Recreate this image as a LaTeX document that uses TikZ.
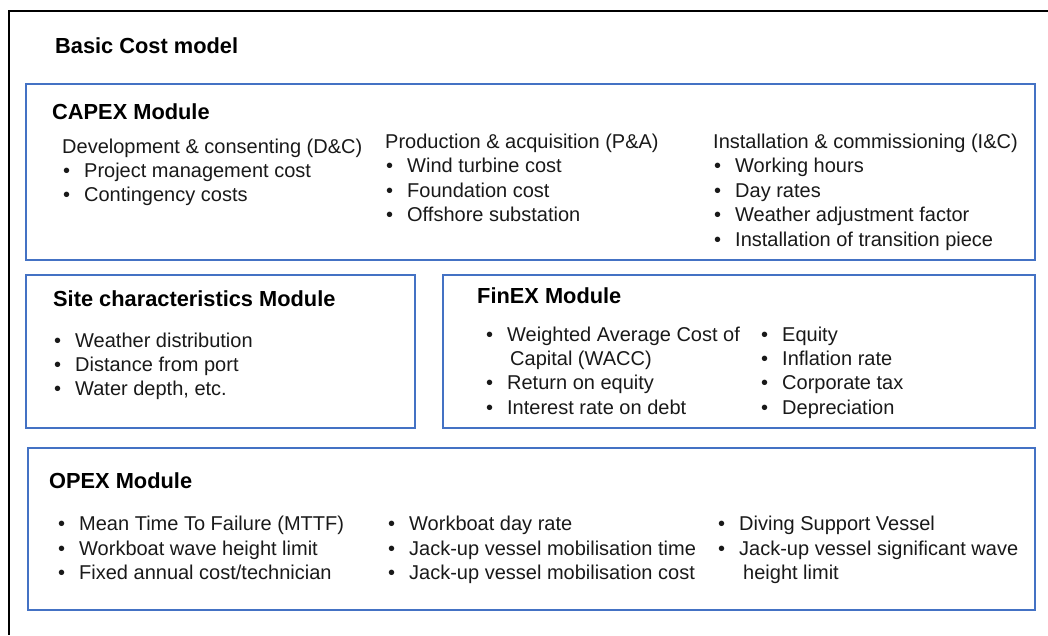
\documentclass[tikz,border=0pt]{standalone}
\usepackage{fontspec}
\setmainfont{Liberation Sans}
\definecolor{boxblue}{HTML}{4472C4}
\newcommand\bitem[1]{\makebox[21pt][l]{\textbullet}#1}
\begin{document}
\begin{tikzpicture}[x=1pt,y=-1pt,
  modbox/.style={draw=boxblue,line width=1.6pt},
  frame/.style={draw=black,line width=1.8pt},
  ttl/.style={anchor=base west,inner sep=0pt,font=\fontsize{21.8}{24}\selectfont\bfseries},
  txt/.style={anchor=base west,inner sep=0pt,font=\fontsize{20}{24.5}\selectfont,text=black!90}]
\useasboundingbox (0,0) rectangle (1048,635);
% outer frame (top and left only)
\coordinate (ftr) at (1048,11);
\coordinate (ftl) at (9,11);
\coordinate (fbl) at (9,635);
\draw[frame] (ftr) -- (ftl) -- (fbl);
\node[ttl] (title) at (55,53) {Basic Cost model};
% boxes
\draw[modbox] (26,84) rectangle (1035,260);
\draw[modbox] (26,275) rectangle (415,428);
\draw[modbox] (443,275) rectangle (1035,428);
\draw[modbox] (28,448) rectangle (1035,610);
% CAPEX
\node[ttl] (capex) at (52,119) {CAPEX Module};
\node[txt] (dc) at (62,153) {Development \& consenting (D\&C)};
\node[txt] (dc1) at (63,177) {\bitem{Project management cost}};
\node[txt] (dc2) at (63,201) {\bitem{Contingency costs}};
\node[txt] (pa) at (385,148) {Production \& acquisition (P\&A)};
\node[txt] (pa1) at (386,172.5) {\bitem{Wind turbine cost}};
\node[txt] (pa2) at (386,197) {\bitem{Foundation cost}};
\node[txt] (pa3) at (386,221.5) {\bitem{Offshore substation}};
\node[txt] (ic) at (713,148) {Installation \& commissioning (I\&C)};
\node[txt] (ic1) at (714,172.5) {\bitem{Working hours}};
\node[txt] (ic2) at (714,197) {\bitem{Day rates}};
\node[txt] (ic3) at (714,221.5) {\bitem{Weather adjustment factor}};
\node[txt] (ic4) at (714,246) {\bitem{Installation of transition piece}};
% Site
\node[ttl] (site) at (53,306) {Site characteristics Module};
\node[txt] (s1) at (54,347) {\bitem{Weather distribution}};
\node[txt] (s2) at (54,371) {\bitem{Distance from port}};
\node[txt] (s3) at (54,395) {\bitem{Water depth, etc.}};
% FinEX
\node[ttl] (finex) at (477,303) {FinEX Module};
\node[txt] (f1) at (486,341) {\bitem{Weighted Average Cost of}};
\node[txt] (f1b) at (510,365) {Capital (WACC)};
\node[txt] (f2) at (486,389) {\bitem{Return on equity}};
\node[txt] (f3) at (486,414) {\bitem{Interest rate on debt}};
\node[txt] (g1) at (761,341) {\bitem{Equity}};
\node[txt] (g2) at (761,365) {\bitem{Inflation rate}};
\node[txt] (g3) at (761,389) {\bitem{Corporate tax}};
\node[txt] (g4) at (761,414) {\bitem{Depreciation}};
% OPEX
\node[ttl] (opex) at (49,488) {OPEX Module};
\node[txt] (o1) at (58,530) {\bitem{Mean Time To Failure (MTTF)}};
\node[txt] (o2) at (58,555) {\bitem{Workboat wave height limit}};
\node[txt] (o3) at (58,579) {\bitem{Fixed annual cost/technician}};
\node[txt] (p1) at (388,530) {\bitem{Workboat day rate}};
\node[txt] (p2) at (388,555) {\bitem{Jack-up vessel mobilisation time}};
\node[txt] (p3) at (388,579) {\bitem{Jack-up vessel mobilisation cost}};
\node[txt] (q1) at (718,530) {\bitem{Diving Support Vessel}};
\node[txt] (q2) at (718,555) {\bitem{Jack-up vessel significant wave}};
\node[txt] (q2b) at (743,579) {height limit};
\end{tikzpicture}
\end{document}
